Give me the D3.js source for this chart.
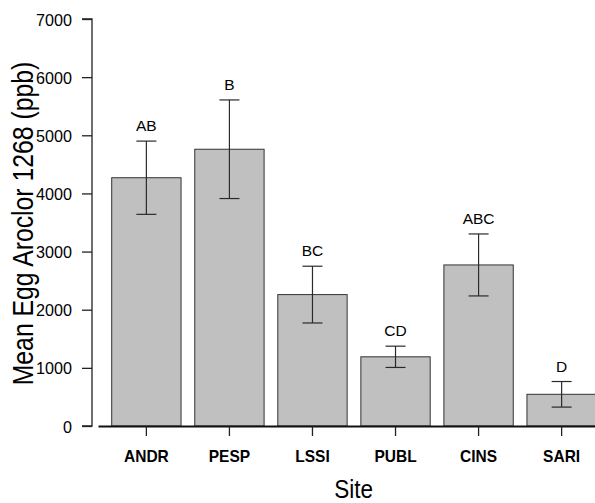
<!DOCTYPE html>
<html>
<head>
<meta charset="utf-8">
<script src="https://cdn.jsdelivr.net/npm/d3@7"></script>
<style>
  html, body { margin: 0; padding: 0; background: #fff; }
  svg { display: block; }
  text { font-family: "Liberation Sans", Arial, Helvetica, sans-serif; fill: #000; }
</style>
</head>
<body>
<div id="chart"></div>
<script>
// ---- data ----
const sites = ["ANDR", "PESP", "LSSI", "PUBL", "CINS", "SARI"];
const means = [4270, 4760, 2260, 1190, 2770, 545];
const errors = [630, 848, 488, 183, 533, 220];
const letters = ["AB", "B", "BC", "CD", "ABC", "D"];
const yTicks = [0, 1000, 2000, 3000, 4000, 5000, 6000, 7000];
const yTitle = "Mean Egg Aroclor 1268 (ppb)";
const xTitle = "Site";

// ---- layout ----
const W = 595, H = 503;
const yAxisX = 92, xAxisStart = 98;
const y0 = 426, yTop = 19;

const svg = d3.select("#chart").append("svg")
  .attr("width", W).attr("height", H);

const x = d3.scaleBand()
  .domain(sites)
  .range([xAxisStart, 610])
  .paddingInner(0.165)
  .paddingOuter(0.165);

const y = d3.scaleLinear().domain([0, 7000]).range([y0, yTop]);

const data = sites.map((s, i) => ({ site: s, mean: means[i], err: errors[i], letter: letters[i] }));

// bars
svg.append("g").selectAll("rect").data(data).join("rect")
  .attr("x", d => x(d.site))
  .attr("y", d => y(d.mean))
  .attr("width", x.bandwidth())
  .attr("height", d => y(0) - y(d.mean))
  .attr("fill", "#c0c0c0")
  .attr("stroke", "#333")
  .attr("stroke-width", 1);

// error bars
const eb = svg.append("g").attr("stroke", "#2a2a2a").attr("stroke-width", 1.2).attr("fill", "none");
data.forEach(d => {
  const cx = x(d.site) + x.bandwidth() / 2;
  const capW = 10;
  eb.append("line").attr("x1", cx).attr("x2", cx).attr("y1", y(d.mean + d.err)).attr("y2", y(d.mean - d.err));
  eb.append("line").attr("x1", cx - capW).attr("x2", cx + capW).attr("y1", y(d.mean + d.err)).attr("y2", y(d.mean + d.err));
  eb.append("line").attr("x1", cx - capW).attr("x2", cx + capW).attr("y1", y(d.mean - d.err)).attr("y2", y(d.mean - d.err));
});

// letters
svg.append("g").selectAll("text").data(data).join("text")
  .attr("x", d => x(d.site) + x.bandwidth() / 2)
  .attr("y", d => y(d.mean + d.err) - 10)
  .attr("text-anchor", "middle")
  .style("font-size", "15.5px")
  .text(d => d.letter);

// y axis
const yAxis = d3.axisLeft(y).tickValues(yTicks).tickSize(10).tickPadding(10).tickFormat(d3.format("d"));
const gy = svg.append("g").attr("transform", `translate(${yAxisX},0)`).call(yAxis);
gy.select(".domain").attr("stroke", "#222").attr("stroke-width", 1.3).attr("d", `M-10,${yTop}H0V${y0}H-10`);
gy.selectAll(".tick line").attr("stroke", "#222").attr("stroke-width", 1.3);
gy.selectAll(".tick text")
  .attr("x", null).attr("dy", null)
  .attr("text-anchor", "end")
  .attr("transform", "translate(-20,6) scale(0.95,1)")
  .style("font-size", "17px")
  .style("font-family", "'Liberation Sans', Arial, sans-serif")
  .attr("fill", "#000");

// x axis
const xAxis = d3.axisBottom(x).tickSize(10).tickSizeOuter(0).tickPadding(0);
const gx = svg.append("g").attr("transform", `translate(0,${y0})`).call(xAxis);
gx.select(".domain").attr("stroke", "#111").attr("stroke-width", 1.8);
gx.selectAll(".tick line").attr("stroke", "#222").attr("stroke-width", 1.3);
gx.selectAll(".tick text")
  .attr("y", null).attr("dy", null)
  .attr("transform", "translate(0,36.3) scale(0.94,1)")
  .style("font-size", "16.5px")
  .style("font-weight", "bold")
  .style("font-family", "'Liberation Sans', Arial, sans-serif")
  .attr("fill", "#000");

// axis titles
svg.append("text")
  .attr("transform", "translate(33.3,223.5) rotate(-90) scale(0.84,1)")
  .attr("text-anchor", "middle")
  .style("font-size", "29.5px")
  .text(yTitle);

svg.append("text")
  .attr("transform", "translate(353.7,497.5) scale(0.9,1)")
  .attr("text-anchor", "middle")
  .style("font-size", "25px")
  .text(xTitle);
</script>
</body>
</html>
